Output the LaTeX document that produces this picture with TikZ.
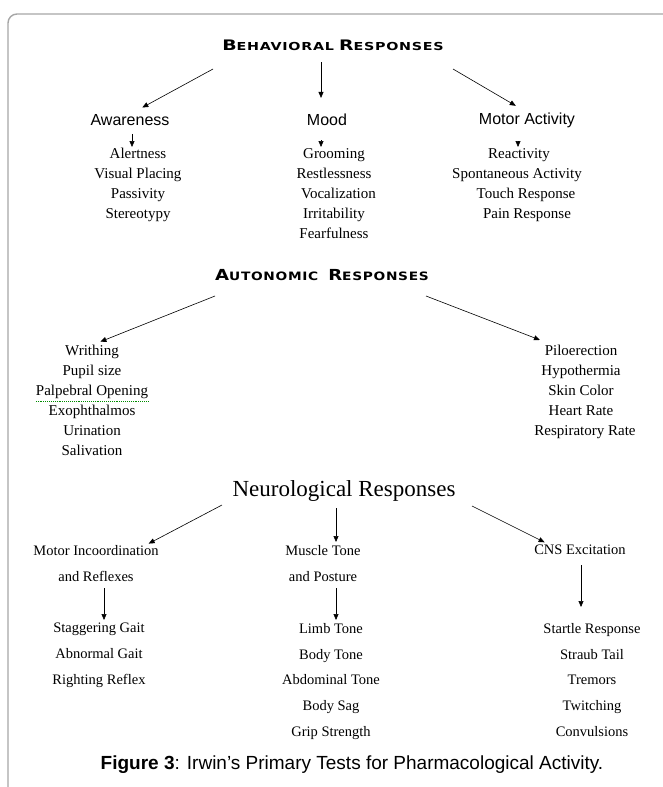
\documentclass[tikz,border=0pt]{standalone}
\usepackage{fontspec}
\setmainfont{Liberation Serif}
\newfontfamily\grpsans{Liberation Sans}
\newfontfamily\capsans[LetterSpace=5]{DejaVu Sans Bold}
\usetikzlibrary{arrows.meta}

% fake small caps for the two upper headings
\newcommand{\fsc}[2]{{\fontsize{14.5}{14.5}\selectfont #1}{\fontsize{11}{11}\selectfont #2}}

\tikzset{
  arr/.style={-{Triangle[length=6pt,width=5pt]}, line width=0.6pt},
  head/.style={inner sep=0pt, font=\capsans},
  group/.style={inner sep=0pt, font=\grpsans\fontsize{16}{16}\selectfont},
  items/.style={align=center, anchor=north, inner sep=0pt, font=\fontsize{15}{20}\selectfont},
  nitems/.style={align=center, anchor=north, inner sep=0pt, font=\fontsize{14.5}{25.8}\selectfont},
  spell/.style={green!55!black, densely dotted, line width=0.9pt}
}

\begin{document}
\begin{tikzpicture}[x=1pt,y=-1pt]
\useasboundingbox (0,0) rectangle (662,787);
\draw [black!35, line width=1.4pt, rounded corners=9pt] (8,790) -- (8,14) -- (665,14);

% behavioral
\node [head] (beh) at (333,45) {\scalebox{1.3}[1]{\fsc{B}{EHAVIORAL} \fsc{R}{ESPONSES}}};
\node [group] (aware) at (130,120) {Awareness};
\node [group] (mood) at (327,120) {Mood};
\node [group] (motor) at (527,120) {Motor Activity};
\node [items] (awlist) at (138,148) {Alertness\\Visual Placing\\Passivity\\Stereotypy};
\node [items] (mdlist) at (334,148) {Grooming\\Restlessness\\\hspace{9pt}Vocalization\\Irritability\\Fearfulness};
\node [items] (malist) at (517,148) {\hspace{4pt}Reactivity\\Spontaneous Activity\\\hspace{18pt}Touch Response\\\hspace{20pt}Pain Response};
\coordinate (beh-l) at (213,69);
\coordinate (beh-m) at (321,62);
\coordinate (beh-r) at (453,69);
\draw [arr, shorten >=14pt] (beh-l) -- (aware.north);
\draw [arr, shorten >=16pt] (beh-m) -- (beh-m |- mood.north);
\draw [arr, shorten >=13pt] (beh-r) -- (motor.north);
\draw [arr, shorten <=8pt, shorten >=1pt] ([xshift=2pt]aware.south) -- ([xshift=2pt]aware.south |- awlist.north);
\draw [arr, shorten <=14pt, shorten >=1pt] ([xshift=-6pt]mood.south) -- ([xshift=-6pt]mood.south |- mdlist.north);
\draw [arr, shorten <=14pt, shorten >=1pt] ([xshift=-9pt]motor.south) -- ([xshift=-9pt]motor.south |- malist.north);

% autonomic
\node [head] (auto) at (322,275) {\scalebox{1.25}[1.05]{\fsc{A}{UTONOMIC}\ \ \fsc{R}{ESPONSES}}};
\node [items] (aulist) at (92,345) {Writhing\\Pupil size\\Palpebral\ Opening\\Exophthalmos\\Urination\\Salivation};
\node [items] (aurlist) at (581,345) {Piloerection\\Hypothermia\\Skin Color\\Heart Rate\\\hspace{8pt}Respiratory Rate};
\coordinate (auto-l) at (215,296);
\coordinate (auto-r) at (426,296);
\draw [arr, shorten >=9pt] (auto-l) -- (aulist.north);
\draw [arr, shorten >=14pt] (auto-r) -- ([xshift=-28pt]aurlist.north);
\draw [spell] ([yshift=-56pt]aulist.north west) -- ([yshift=-56pt]aulist.north east);

% neurological
\node [inner sep=0pt, font=\fontsize{23}{23}\selectfont] (neuro) at (344,491) {Neurological Responses};
\node [nitems] (mi) at (96,545) {Motor Incoordination\\and Reflexes};
\node [nitems] (mt) at (323,545) {Muscle Tone\\and Posture};
\node [nitems] (cns) at (580,545) {CNS Excitation};
\node [nitems] (milist) at (99,623) {Staggering Gait\\Abnormal Gait\\Righting Reflex};
\node [nitems] (mtlist) at (331,623) {Limb Tone\\Body Tone\\Abdominal Tone\\Body Sag\\Grip Strength};
\node [nitems] (cnslist) at (592,623) {Startle Response\\Straub Tail\\Tremors\\Twitching\\Convulsions};
\coordinate (neuro-l) at (222,505);
\coordinate (neuro-m) at (336,508);
\coordinate (neuro-r) at (472,506);
\draw [arr, shorten >=3pt] (neuro-l) -- ([xshift=50pt]mi.north);
\draw [arr, shorten >=3pt] (neuro-m) -- (neuro-m |- mt.north);
\draw [arr, shorten >=6pt] (neuro-r) -- ([xshift=-30pt]cns.north);
\draw [arr, shorten <=7pt, shorten >=3pt] ([xshift=8pt]mi.south) -- ([xshift=8pt]mi.south |- milist.north);
\draw [arr, shorten <=7pt, shorten >=3pt] ([xshift=13pt]mt.south) -- ([xshift=13pt]mt.south |- mtlist.north);
\draw [arr, shorten <=10pt, shorten >=16pt] ([xshift=1pt]cns.south) -- ([xshift=1pt]cns.south |- cnslist.north);

% caption
\node [inner sep=0pt, font=\grpsans\fontsize{19}{19}\selectfont] (caption) at (352,765) {\textbf{Figure 3}: Irwin’s Primary Tests for Pharmacological Activity.};
\end{tikzpicture}
\end{document}
